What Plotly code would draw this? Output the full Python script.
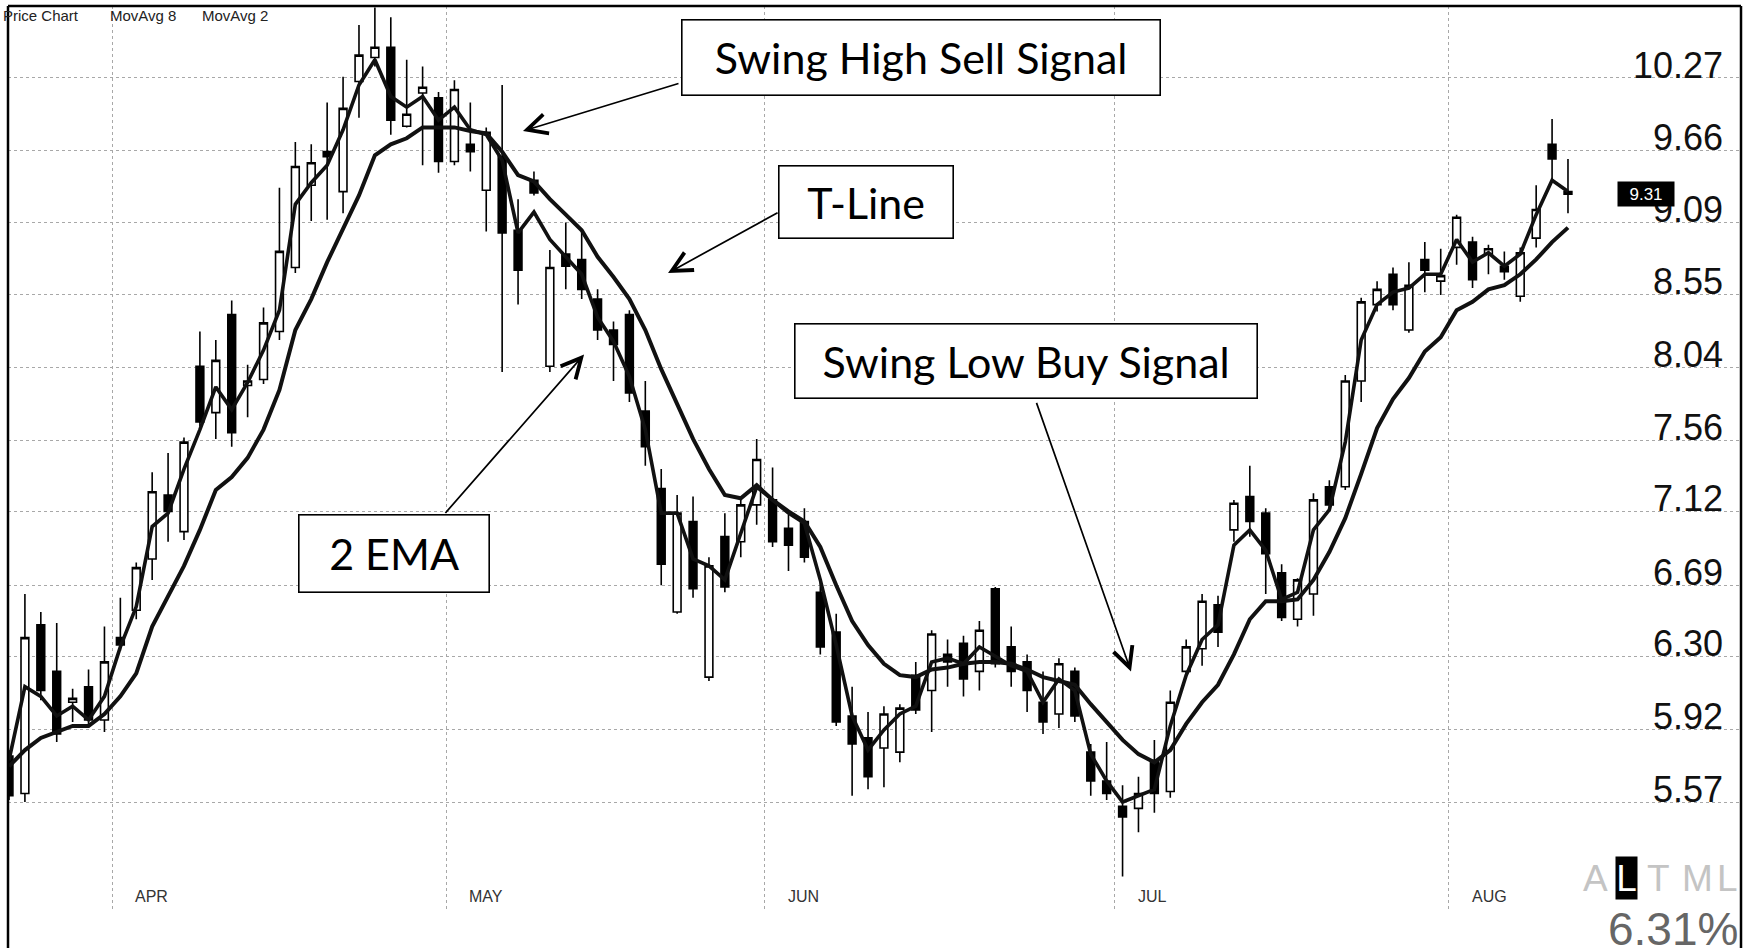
import math
import plotly.graph_objects as go

# ---------------- data ----------------
bar = list(range(99))  # trading-day index, 23 Mar .. 11 Aug

opens = [5.79, 5.61, 6.47, 6.22, 6.06, 6.14, 5.97, 6.40, 6.55, 6.84,
         7.22, 7.00, 8.05, 7.74, 8.41, 7.92, 7.96, 8.29, 8.75, 9.38,
         9.65, 9.33, 10.24, 10.45, 10.54, 9.86, 10.14, 10.10, 9.57, 9.71,
         9.34, 9.61, 9.03, 9.42, 8.05, 8.85, 8.81, 8.52, 8.30, 8.41,
         7.75, 7.26, 6.54, 7.06, 6.19, 6.97, 6.94, 7.16, 7.19, 7.02,
         7.06, 6.65, 6.43, 5.99, 5.88, 5.83, 5.81, 6.20, 6.12, 6.31,
         6.37, 6.22, 6.67, 6.35, 6.27, 6.06, 6.00, 6.22, 5.81, 5.67,
         5.55, 5.54, 5.77, 5.62, 6.22, 6.34, 6.58, 7.01, 7.21, 7.11,
         6.76, 6.50, 6.64, 7.27, 7.27, 7.95, 8.48, 8.70, 8.30, 8.81,
         8.65, 8.90, 8.94, 8.85, 8.76, 8.54, 8.97, 9.71, 9.33]
highs = [5.82, 6.64, 6.54, 6.48, 6.13, 6.23, 6.46, 6.62, 6.82, 7.36,
         7.48, 7.58, 8.29, 8.23, 8.51, 8.06, 8.46, 9.36, 9.73, 9.71,
         10.06, 10.28, 10.74, 10.90, 10.81, 10.43, 10.37, 10.15, 10.25, 10.06,
         9.85, 10.21, 9.27, 9.49, 8.88, 9.09, 9.03, 8.59, 8.36, 8.44,
         7.95, 7.38, 7.22, 7.21, 6.85, 7.11, 7.20, 7.57, 7.39, 7.10,
         7.14, 6.72, 6.53, 6.14, 6.01, 6.04, 6.05, 6.27, 6.44, 6.39,
         6.41, 6.49, 6.68, 6.46, 6.31, 6.22, 6.29, 6.24, 5.85, 5.86,
         5.65, 5.69, 5.87, 6.12, 6.39, 6.64, 6.63, 7.19, 7.40, 7.14,
         6.81, 6.73, 7.23, 7.31, 7.99, 8.53, 8.65, 8.75, 8.79, 8.94,
         8.89, 9.15, 8.98, 8.92, 8.87, 8.90, 9.38, 9.92, 9.59]
lows = [5.58, 5.57, 6.07, 5.86, 5.96, 5.94, 5.91, 6.33, 6.50, 6.72,
        6.94, 6.95, 7.65, 7.57, 7.52, 7.71, 7.93, 8.23, 8.71, 9.10,
        9.11, 9.16, 9.93, 10.37, 9.79, 9.85, 9.54, 9.48, 9.54, 9.49,
        9.02, 8.01, 8.48, 9.30, 8.01, 8.59, 8.52, 8.23, 7.95, 7.81,
        7.40, 6.69, 6.53, 6.62, 6.17, 6.65, 6.85, 7.04, 6.91, 6.77,
        6.82, 6.31, 5.94, 5.60, 5.63, 5.64, 5.76, 6.00, 5.91, 6.14,
        6.09, 6.12, 6.24, 6.14, 6.01, 5.90, 5.93, 5.96, 5.60, 5.58,
        5.23, 5.43, 5.52, 5.59, 6.18, 6.25, 6.35, 6.94, 6.97, 6.64,
        6.49, 6.46, 6.52, 7.13, 7.25, 7.81, 8.43, 8.44, 8.28, 8.57,
        8.55, 8.77, 8.60, 8.70, 8.66, 8.50, 8.90, 9.42, 9.16]
closes = [5.60, 6.40, 6.12, 5.90, 6.08, 5.97, 6.27, 6.36, 6.79, 7.24,
          7.12, 7.55, 7.68, 8.09, 7.61, 7.95, 8.35, 8.87, 9.53, 9.56,
          9.61, 10.01, 10.47, 10.54, 9.91, 9.96, 10.19, 9.57, 10.17, 9.65,
          9.81, 9.01, 8.73, 9.32, 8.75, 8.76, 8.59, 8.30, 8.20, 7.87,
          7.52, 6.81, 7.11, 6.67, 6.80, 6.68, 7.16, 7.44, 6.94, 6.92,
          6.85, 6.35, 5.96, 5.85, 5.69, 6.00, 6.03, 6.02, 6.42, 6.27,
          6.18, 6.44, 6.26, 6.22, 6.12, 5.96, 6.26, 5.99, 5.67, 5.61,
          5.50, 5.61, 5.61, 6.06, 6.35, 6.60, 6.43, 7.17, 7.06, 6.87,
          6.51, 6.72, 7.19, 7.16, 7.95, 8.50, 8.59, 8.48, 8.62, 8.73,
          8.69, 9.13, 8.66, 8.89, 8.72, 8.86, 9.19, 9.59, 9.31]

movavg8 = [5.74, 5.82, 5.88, 5.91, 5.94, 5.94, 6.00, 6.09, 6.21, 6.46,
           6.63, 6.80, 7.01, 7.25, 7.33, 7.45, 7.63, 7.89, 8.30, 8.52,
           8.79, 9.05, 9.30, 9.62, 9.71, 9.76, 9.85, 9.85, 9.85, 9.82,
           9.80, 9.65, 9.46, 9.41, 9.27, 9.15, 9.03, 8.83, 8.68, 8.52,
           8.30, 8.03, 7.79, 7.57, 7.38, 7.22, 7.20, 7.28, 7.19, 7.12,
           7.06, 6.91, 6.69, 6.49, 6.36, 6.26, 6.20, 6.19, 6.23, 6.24,
           6.26, 6.27, 6.27, 6.26, 6.23, 6.19, 6.17, 6.15, 6.05, 5.96,
           5.87, 5.80, 5.76, 5.82, 5.95, 6.06, 6.15, 6.31, 6.50, 6.60,
           6.60, 6.61, 6.72, 6.88, 7.08, 7.35, 7.64, 7.83, 7.97, 8.15,
           8.25, 8.44, 8.50, 8.59, 8.62, 8.70, 8.81, 8.94, 9.05]
movavg2 = [5.77, 6.14, 6.09, 5.99, 6.04, 5.97, 6.09, 6.35, 6.57, 7.03,
           7.11, 7.38, 7.63, 7.91, 7.76, 7.94, 8.16, 8.44, 9.23, 9.40,
           9.54, 9.83, 10.21, 10.43, 10.11, 10.02, 10.11, 9.91, 10.02, 9.83,
           9.79, 9.58, 9.01, 9.17, 8.96, 8.83, 8.70, 8.39, 8.22, 7.98,
           7.63, 7.11, 7.11, 6.84, 6.80, 6.72, 6.99, 7.27, 7.19, 7.11,
           7.05, 6.72, 6.36, 5.99, 5.82, 5.92, 6.00, 6.04, 6.27, 6.29,
           6.26, 6.35, 6.30, 6.25, 6.22, 6.06, 6.18, 6.12, 5.80, 5.67,
           5.57, 5.60, 5.63, 5.94, 6.20, 6.39, 6.47, 6.92, 7.01, 6.89,
           6.61, 6.65, 7.01, 7.13, 7.55, 8.23, 8.48, 8.57, 8.60, 8.70,
           8.70, 8.96, 8.79, 8.86, 8.76, 8.85, 9.15, 9.42, 9.33]

price_ticks = [10.27, 9.66, 9.09, 8.55, 8.04, 7.56, 7.12, 6.69, 6.30, 5.92, 5.57]
month_labels = ["APR", "MAY", "JUN", "JUL", "AUG"]
month_first_bar = [7, 28, 48, 70, 91]
last_price = 9.31

# ---------------- geometry ----------------
W, H = 1746, 948
ML, MR, MT, MB = 8, 5, 6, 38
PW, PH = W - ML - MR, H - MT - MB
BAR_PX = 15.908
FIRST_BAR_PX = 9
x_lo = (ML - FIRST_BAR_PX) / BAR_PX
x_hi = x_lo + PW / BAR_PX
y_range = [0.70622, 1.03799]


def px(xp, yp):
    return (xp - ML) / PW, 1 - (yp - MT) / PH


fig = go.Figure()
fig.add_trace(go.Candlestick(
    x=bar, open=opens, high=highs, low=lows, close=closes,
    increasing=dict(line=dict(color="black", width=1.6), fillcolor="white"),
    decreasing=dict(line=dict(color="black", width=1.6), fillcolor="black"),
    whiskerwidth=0, showlegend=False, hoverinfo="skip"))
fig.add_trace(go.Scatter(x=bar, y=movavg8, mode="lines", name="MovAvg 8",
                         line=dict(color="#111111", width=4), showlegend=False))
fig.add_trace(go.Scatter(x=bar, y=movavg2, mode="lines", name="MovAvg 2",
                         line=dict(color="#111111", width=3.6), showlegend=False))

grid = dict(showgrid=True, gridcolor="#a8a8a8", gridwidth=1, griddash="dot",
            zeroline=False, showline=False, ticks="")
fig.update_xaxes(range=[x_lo, x_hi], tickvals=[b - 0.5 for b in month_first_bar],
                 showticklabels=False, rangeslider=dict(visible=False), **grid)
fig.update_yaxes(type="log", range=y_range, side="right",
                 tickvals=price_ticks, ticktext=[f"{v:.2f}" for v in price_ticks],
                 ticklabelposition="inside", ticklabelshift=-13, ticklabelstandoff=15,
                 tickfont=dict(family="Liberation Sans, Arial, sans-serif",
                               size=36, color="#111111"),
                 **grid)

NARROW = "Liberation Sans, Arial, sans-serif"
ann = []
# header labels
for txt, xp in [("Price Chart", 1), ("MovAvg 8", 108), ("MovAvg 2", 200)]:
    x, y = px(xp, 15)
    ann.append(dict(text=txt, x=x, y=y, xref="paper", yref="paper", xanchor="left",
                    yanchor="middle", showarrow=False,
                    font=dict(family=NARROW, size=15, color="#222222")))
# month labels
ylab = px(0, 896)[1]
for lab, b in zip(month_labels, month_first_bar):
    ann.append(dict(text=lab, x=b - 0.5, y=ylab, xref="x", yref="paper", xshift=21,
                    xanchor="left", yanchor="middle", showarrow=False,
                    font=dict(family=NARROW, size=16, color="#333333")))
# callout boxes
BOXFONT = dict(family="Lato, Carlito, Calibri, Open Sans, sans-serif", size=43, color="black")
for txt, cx, cy, bw, bh in [("Swing High Sell Signal", 921, 57.5, 477, 74),
                            ("T-Line", 866, 202, 173, 71),
                            ("Swing Low Buy Signal", 1026, 361, 461, 73),
                            ("2 EMA", 394, 553.5, 189, 76)]:
    x, y = px(cx, cy)
    ann.append(dict(text=txt, x=x, y=y, xref="paper", yref="paper", xanchor="center",
                    yanchor="middle", showarrow=False, width=bw, height=bh,
                    bgcolor="white", bordercolor="black", borderwidth=1.6, borderpad=0,
                    font=BOXFONT))
# arrows (tip in data coords, tail offset in pixels)
for bx, price, ax, ay in [(32.31, 9.82, 157, -48),
                          (41.43, 8.71, 111, -61),
                          (36.15, 8.13, -140, 160),
                          (70.53, 6.22, -95, -270)]:
    ann.append(dict(text="", x=bx, y=math.log10(price), xref="x", yref="y",
                    ax=ax, ay=ay, showarrow=True, arrowhead=5, arrowsize=2.3,
                    arrowwidth=1.7, arrowcolor="black", standoff=0, startstandoff=0))
# last price tag
x, _ = px(1646, 0)
ann.append(dict(text=f"{last_price:.2f}", x=x, y=math.log10(last_price), xref="paper", yref="y",
                xanchor="center", yanchor="middle", showarrow=False, bgcolor="black",
                width=54, height=22, borderpad=1,
                font=dict(family=NARROW, size=17, color="white")))
# ALTML indicator
for ch, xp, hl in [("A", 1595, False), ("L", 1626, True), ("T", 1658, False),
                   ("M", 1697, False), ("L", 1727, False)]:
    x, y = px(xp, 878)
    d = dict(text=ch, x=x, y=y, xref="paper", yref="paper", xanchor="center",
             yanchor="middle", showarrow=False,
             font=dict(family=NARROW, size=37, color="white" if hl else "#c4c4c4"))
    if hl:
        d.update(bgcolor="black", width=21, height=42, borderpad=0)
    ann.append(d)
x, y = px(1740, 929)
ann.append(dict(text="6.31%", x=x, y=y, xref="paper", yref="paper", xanchor="right",
                yanchor="middle", showarrow=False,
                font=dict(family=NARROW, size=46, color="#666666")))

# frame
y_bot = px(0, H + 5)[1]
shapes = [
    dict(type="line", xref="paper", yref="paper", x0=0, x1=1, y0=1, y1=1,
         line=dict(color="black", width=2.5)),
    dict(type="line", xref="paper", yref="paper", x0=0, x1=0, y0=1, y1=y_bot,
         line=dict(color="black", width=2.5)),
    dict(type="line", xref="paper", yref="paper", x0=1, x1=1, y0=1, y1=y_bot,
         line=dict(color="black", width=2.5)),
]

fig.update_layout(width=W, height=H, margin=dict(l=ML, r=MR, t=MT, b=MB),
                  paper_bgcolor="white", plot_bgcolor="white",
                  annotations=ann, shapes=shapes, showlegend=False,
                  hovermode=False)

fig.write_html("out.html", config={"displayModeBar": False, "staticPlot": True},
               post_script="document.body.style.margin='0';"
                           "document.documentElement.style.overflow='hidden';")
